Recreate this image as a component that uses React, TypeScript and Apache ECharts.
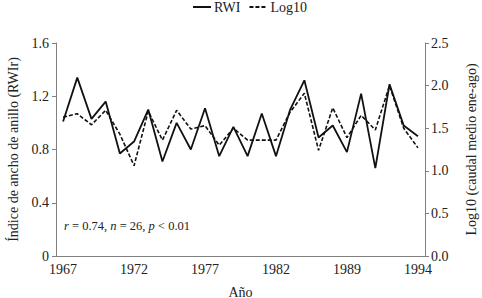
import React, { useEffect, useRef } from "react";
import * as echarts from "echarts";

const years = [
  "1967", "1968", "1969", "1970", "1971", "1972", "1973", "1974", "1975", "1976",
  "1977", "1978", "1979", "1980", "1981", "1982", "1983", "1984", "1985", "1986",
  "1987", "1988", "1989", "1990", "1991", "1992",
];
const xTickLabels = ["1967", "1972", "1977", "1982", "1989", "1994"];

const rwi = [
  1.01, 1.34, 1.03, 1.16, 0.77, 0.86, 1.1, 0.71, 1.0, 0.8,
  1.11, 0.75, 0.97, 0.75, 1.07, 0.75, 1.1, 1.32, 0.89, 0.98,
  0.78, 1.22, 0.66, 1.29, 0.98, 0.9,
];
const log10 = [
  1.63, 1.67, 1.54, 1.71, 1.43, 1.06, 1.7, 1.36, 1.71, 1.49,
  1.53, 1.3, 1.5, 1.36, 1.36, 1.36, 1.69, 1.91, 1.24, 1.74,
  1.39, 1.65, 1.48, 2.0, 1.5, 1.27,
];

const FONT = "Liberation Serif";

export default function App() {
  const ref = useRef<HTMLDivElement>(null);
  useEffect(() => {
    if (!ref.current) return;
    const chart = echarts.init(ref.current, undefined, { renderer: "svg" });
    const axisLineColor = "#808080";
    const textColor = "#222";
    chart.setOption({
      animation: false,
      textStyle: { fontFamily: FONT },
      legend: {
        top: 0,
        left: 192,
        padding: 0,
        itemWidth: 18,
        itemHeight: 10,
        itemGap: 8,
        itemStyle: { opacity: 0 },
        textStyle: { fontFamily: FONT, fontSize: 14, color: textColor, padding: [0, 0, 0, -2] },
        data: ["RWI", "Log10"],
      },
      grid: { left: 56, right: 57, top: 43, bottom: 42, containLabel: false, outerBoundsMode: "none" },
      xAxis: {
        type: "category",
        data: years,
        boundaryGap: true,
        name: "Año",
        nameLocation: "middle",
        nameGap: 29,
        nameTextStyle: { fontFamily: FONT, fontSize: 14, color: textColor },
        axisLine: { lineStyle: { color: axisLineColor, width: 1 } },
        axisTick: { interval: 0, length: 4, lineStyle: { color: axisLineColor } },
        axisLabel: {
          interval: 4,
          fontFamily: FONT,
          fontSize: 14,
          color: textColor,
          margin: 6,
          formatter: (_v: string, i: number) => xTickLabels[Math.round(i / 5)] ?? "",
        },
        splitLine: { show: false },
      },
      yAxis: [
        {
          type: "value",
          min: 0,
          max: 1.6,
          interval: 0.4,
          name: "Índice de ancho de anillo (RWIr)",
          nameLocation: "middle",
          nameGap: 36,
          nameTextStyle: { fontFamily: FONT, fontSize: 14, color: textColor },
          axisLine: { show: true, lineStyle: { color: axisLineColor } },
          axisTick: { show: true, length: 4, lineStyle: { color: axisLineColor } },
          axisLabel: {
            fontFamily: FONT,
            fontSize: 14,
            color: textColor,
            margin: 7,
            formatter: (v: number) => (v === 0 ? "0" : v.toFixed(1)),
          },
          splitLine: { show: false },
        },
        {
          type: "value",
          min: 0,
          max: 2.5,
          interval: 0.5,
          position: "right",
          name: "Log10 (caudal medio ene-ago)",
          nameLocation: "middle",
          nameGap: 39,
          nameRotate: 90,
          nameTextStyle: { fontFamily: FONT, fontSize: 14, color: textColor },
          axisLine: { show: true, lineStyle: { color: axisLineColor } },
          axisTick: { show: true, length: 4, lineStyle: { color: axisLineColor } },
          axisLabel: {
            fontFamily: FONT,
            fontSize: 14,
            color: textColor,
            margin: 6,
            formatter: (v: number) => v.toFixed(1),
          },
          splitLine: { show: false },
        },
      ],
      series: [
        {
          name: "RWI",
          type: "line",
          data: rwi,
          yAxisIndex: 0,
          symbol: "none",
          lineStyle: { color: "#111", width: 1.8, type: "solid" },
          itemStyle: { color: "#111" },
        },
        {
          name: "Log10",
          type: "line",
          data: log10,
          yAxisIndex: 1,
          symbol: "none",
          lineStyle: { color: "#111", width: 1.6, type: [4, 2] },
          itemStyle: { color: "#111" },
        },
      ],
      graphic: [
        {
          type: "text",
          left: 64,
          top: 219,
          style: {
            text: "{i|r} = 0.74, {i|n} = 26, {i|p} < 0.01",
            fontFamily: FONT,
            fontSize: 12.5,
            fill: textColor,
            rich: {
              i: { fontStyle: "italic", fontFamily: FONT, fontSize: 12.5, fill: textColor },
            },
          },
        },
      ],
    });
    return () => chart.dispose();
  }, []);
  return (
    <div style={{ position: "fixed", left: 0, top: 0, width: 482, height: 298, background: "#fff" }}>
      <div ref={ref} style={{ width: 482, height: 298 }} />
    </div>
  );
}
